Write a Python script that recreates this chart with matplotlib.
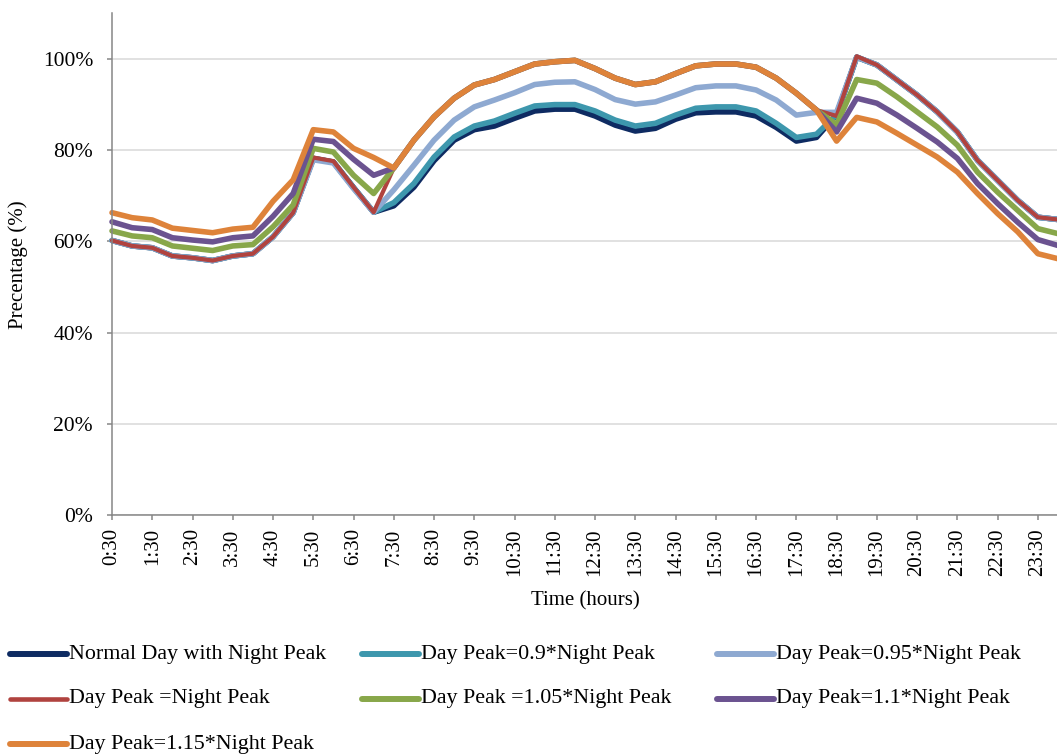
import matplotlib
matplotlib.use("Agg")
import matplotlib.pyplot as plt
from matplotlib.lines import Line2D

# half-hour steps, 0:30 .. 24:00
times = ["0:30", "1:00", "1:30", "2:00", "2:30", "3:00", "3:30", "4:00",
         "4:30", "5:00", "5:30", "6:00", "6:30", "7:00", "7:30", "8:00",
         "8:30", "9:00", "9:30", "10:00", "10:30", "11:00", "11:30", "12:00",
         "12:30", "13:00", "13:30", "14:00", "14:30", "15:00", "15:30", "16:00",
         "16:30", "17:00", "17:30", "18:00", "18:30", "19:00", "19:30", "20:00",
         "20:30", "21:00", "21:30", "22:00", "22:30", "23:00", "23:30", "24:00"]

normal = [60.2, 59.0, 58.6, 56.8, 56.4, 55.8, 56.8, 57.3, 61.0, 66.3, 78.2, 77.4,
          71.8, 66.4, 67.8, 71.9, 77.7, 82.2, 84.5, 85.3, 87.0, 88.6, 89.0, 89.0,
          87.5, 85.5, 84.2, 84.8, 86.8, 88.2, 88.4, 88.4, 87.5, 85.0, 82.0, 82.8,
          87.8, 100.4, 98.7, 95.4, 92.1, 88.4, 84.0, 77.8, 73.4, 69.0, 65.3, 64.8]
day_090 = [60.2, 59.0, 58.6, 56.8, 56.4, 55.8, 56.8, 57.3, 61.0, 66.3, 78.2, 77.4,
           71.8, 66.4, 68.5, 72.7, 78.5, 82.9, 85.3, 86.4, 88.1, 89.7, 90.0, 90.0,
           88.6, 86.6, 85.3, 85.9, 87.7, 89.2, 89.5, 89.5, 88.6, 85.9, 82.8, 83.5,
           87.8, 100.4, 98.7, 95.4, 92.1, 88.4, 84.0, 77.8, 73.4, 69.0, 65.3, 64.8]
day_095 = [60.2, 59.0, 58.6, 56.8, 56.4, 55.8, 56.8, 57.3, 61.0, 66.3, 77.9, 77.2,
           71.6, 66.4, 71.3, 76.7, 82.2, 86.6, 89.5, 91.0, 92.6, 94.4, 94.9, 95.0,
           93.3, 91.1, 90.1, 90.6, 92.1, 93.7, 94.1, 94.1, 93.2, 91.0, 87.7, 88.3,
           88.3, 100.4, 98.7, 95.4, 92.1, 88.4, 84.0, 77.8, 73.4, 69.0, 65.3, 64.8]
day_100 = [60.2, 59.0, 58.6, 56.8, 56.4, 55.8, 56.8, 57.3, 61.0, 66.3, 78.4, 77.6,
           71.9, 66.4, 76.1, 82.2, 87.3, 91.4, 94.3, 95.5, 97.2, 98.9, 99.4, 99.7,
           97.9, 95.8, 94.4, 95.0, 96.8, 98.5, 98.9, 98.9, 98.2, 95.8, 92.5, 88.8,
           87.5, 100.6, 98.7, 95.4, 92.1, 88.4, 84.0, 77.8, 73.4, 69.0, 65.3, 64.8]
day_105 = [62.3, 61.2, 60.8, 59.0, 58.5, 58.0, 59.0, 59.3, 63.2, 68.0, 80.4, 79.6,
           74.5, 70.5, 76.1, 82.2, 87.3, 91.4, 94.3, 95.5, 97.2, 98.9, 99.4, 99.7,
           97.9, 95.8, 94.4, 95.0, 96.8, 98.5, 98.9, 98.9, 98.2, 95.8, 92.5, 88.8,
           85.6, 95.5, 94.7, 91.7, 88.4, 85.1, 81.1, 75.2, 70.8, 66.8, 62.8, 61.7]
day_110 = [64.3, 63.0, 62.6, 60.8, 60.3, 59.9, 60.8, 61.2, 65.5, 70.5, 82.4, 81.9,
           78.0, 74.5, 76.1, 82.2, 87.3, 91.4, 94.3, 95.5, 97.2, 98.9, 99.4, 99.7,
           97.9, 95.8, 94.4, 95.0, 96.8, 98.5, 98.9, 98.9, 98.2, 95.8, 92.5, 88.8,
           84.0, 91.4, 90.3, 87.7, 84.8, 81.8, 78.2, 72.7, 68.3, 64.2, 60.4, 59.1]
day_115 = [66.3, 65.2, 64.7, 62.9, 62.4, 61.9, 62.7, 63.1, 68.8, 73.5, 84.5, 84.0,
           80.4, 78.4, 76.1, 82.2, 87.3, 91.4, 94.3, 95.5, 97.2, 98.9, 99.4, 99.7,
           97.9, 95.8, 94.4, 95.0, 96.8, 98.5, 98.9, 98.9, 98.2, 95.8, 92.5, 88.8,
           82.0, 87.2, 86.2, 83.7, 81.1, 78.5, 75.2, 70.5, 66.1, 62.1, 57.3, 56.2]

labels = ["Normal Day with Night Peak", "Day Peak=0.9*Night Peak",
          "Day Peak=0.95*Night Peak", "Day Peak =Night Peak",
          "Day Peak =1.05*Night Peak", "Day Peak=1.1*Night Peak",
          "Day Peak=1.15*Night Peak"]
series = [normal, day_090, day_095, day_100, day_105, day_110, day_115]
colors = ["#0E2B62", "#3D97AD", "#8EA9D1", "#B0433F", "#88A74A", "#6B5390", "#DE833A"]
widths = [4.0, 4.0, 4.0, 3.0, 4.0, 4.0, 4.0]

FONT = "Liberation Serif"
plt.rcParams["font.family"] = [FONT, "DejaVu Serif"]

W, H = 1057, 755
fig = plt.figure(figsize=(W / 100, H / 100), dpi=100)
ax = fig.add_axes([112 / W, 1 - 515 / H, (1058 - 112) / W, (515 - 13.4) / H])

x = list(range(len(times)))
for vals, col, lw in zip(series, colors, widths):
    ax.plot(x, vals, color=col, lw=lw, solid_capstyle="round",
            solid_joinstyle="round", clip_on=False)

ax.set_xlim(0, len(times) - 1)
ax.set_ylim(0, 110)
ax.set_yticks([0, 20, 40, 60, 80, 100])
ax.set_yticklabels([f"{v}%" for v in [0, 20, 40, 60, 80, 100]], fontsize=15.5)
ax.set_xticks(x[::2])
ax.set_xticklabels(times[::2], rotation=90, fontsize=15)
ax.grid(axis="y", color="#D9D9D9", lw=1.1)
ax.set_axisbelow(True)

for s in ["top", "right"]:
    ax.spines[s].set_visible(False)
for s in ["left", "bottom"]:
    ax.spines[s].set_color("#868686")
    ax.spines[s].set_linewidth(1.1)
ax.tick_params(axis="y", length=3.6, width=1.1, color="#868686", pad=10)
ax.tick_params(axis="x", length=3.6, width=1.1, color="#868686", pad=6)

ax.set_xlabel("Time (hours)", fontsize=15)
ax.xaxis.set_label_coords(0.5, -0.152)
ax.set_ylabel("Precentage (%)", fontsize=15)
ax.yaxis.set_label_coords(-0.089, 0.5)

# legend laid out like the spreadsheet one: three columns, row-wise order
col_x = [10, 362, 717]
row_y = [654, 699, 744]
for k, (lab, col, lw) in enumerate(zip(labels, colors, widths)):
    cx = col_x[k % 3]
    ry = row_y[k // 3]
    fig.add_artist(Line2D([cx / W, (cx + 57) / W], [1 - ry / H, 1 - ry / H],
                          color=col, lw=lw + 0.3, solid_capstyle="round",
                          transform=fig.transFigure))
    fig.text((cx + 59) / W, 1 - ry / H, lab, fontsize=15.8, va="center", ha="left")

fig.savefig("out.png", dpi=100, facecolor="white")
